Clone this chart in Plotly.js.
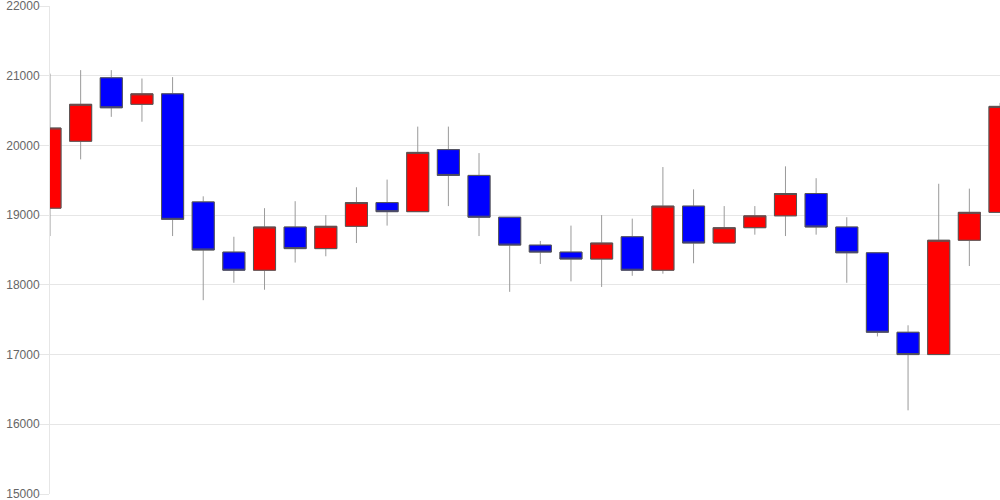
<!DOCTYPE html>
<html>
<head>
<meta charset="utf-8">
<script src="https://cdn.plot.ly/plotly-3.0.1.min.js"></script>
<style>
html, body { margin: 0; padding: 0; background: #fff; }
#chart { width: 1000px; height: 500px; }
</style>
</head>
<body>
<div id="chart"></div>
<script>
// Data
var idx = [0,1,2,3,4,5,6,7,8,9,10,11,12,13,14,15,16,17,18,19,20,21,22,23,24,25,26,27,28,29,30,31];
var openV  = [19100,20060,20970,20590,20740,19190,18470,18210,18830,18520,18840,19180,19050,19940,19570,18970,18570,18470,18370,18690,18210,19130,18600,18820,18990,19310,18830,18460,17320,17000,18640,19040];
var closeV = [20250,20590,20540,20740,18940,18500,18210,18830,18520,18840,19180,19050,19900,19570,18970,18570,18470,18370,18600,18210,19130,18600,18820,18990,19310,18830,18460,17320,17000,18640,19040,20560];
var highV  = [21030,21080,21080,20960,20980,19270,18690,19100,19200,19000,19400,19510,20270,20270,19890,18970,18630,18850,19000,18950,19690,19370,19130,19130,19700,19530,18970,18460,17420,19450,19380,20610];
var lowV   = [18700,19800,20410,20340,18700,17780,18030,17930,18320,18410,18600,18850,19050,19130,18700,17900,18300,18050,17970,18130,18160,18310,18600,18720,18700,18720,18030,17260,16200,17000,18270,19040];
var yTicks = [15000,16000,17000,18000,19000,20000,21000,22000];

var bodyTop = openV.map(function(o, i){ return Math.max(o, closeV[i]); });
var bodyBot = openV.map(function(o, i){ return Math.min(o, closeV[i]); });

// wicks (full candle, grey lines)
var wicks = {
  type: 'candlestick', x: idx, open: openV, close: closeV, high: highV, low: lowV,
  increasing: { line: { color: '#9a9a9a', width: 1 }, fillcolor: '#ff0000' },
  decreasing: { line: { color: '#9a9a9a', width: 1 }, fillcolor: '#0000ff' },
  whiskerwidth: 0, hoverinfo: 'skip', showlegend: false
};
// bodies with dark outline
var bodies = {
  type: 'candlestick', x: idx, open: openV, close: closeV, high: bodyTop, low: bodyBot,
  increasing: { line: { color: '#555555', width: 1 }, fillcolor: '#ff0000' },
  decreasing: { line: { color: '#555555', width: 1 }, fillcolor: '#0000ff' },
  whiskerwidth: 0, hoverinfo: 'skip', showlegend: false
};

var layout = {
  width: 1000, height: 500,
  margin: { l: 50, r: 0, t: 6, b: 6, pad: 0 },
  paper_bgcolor: '#ffffff', plot_bgcolor: '#ffffff',
  showlegend: false,
  boxgap: 0.28, boxgroupgap: 0,
  font: { family: 'Liberation Sans, Arial, sans-serif', size: 12, color: '#666666' },
  xaxis: {
    type: 'linear', range: [0, 31],
    showticklabels: false, showgrid: false, zeroline: false, showline: false, ticks: '',
    rangeslider: { visible: false }, fixedrange: true
  },
  yaxis: {
    range: [15000, 22000], tickvals: yTicks, ticktext: yTicks.map(String),
    showgrid: true, gridcolor: '#e6e6e6', gridwidth: 1,
    zeroline: false, showline: true, linecolor: '#e6e6e6', linewidth: 1,
    ticks: 'outside', ticklen: 10, tickcolor: '#e6e6e6', tickwidth: 1,
    tickfont: { family: 'Liberation Sans, Arial, sans-serif', size: 12, color: '#666666' },
    ticklabelstandoff: -3, ticklabeloverflow: 'allow',
    fixedrange: true
  }
};

Plotly.newPlot('chart', [wicks, bodies], layout, { displayModeBar: false, staticPlot: true });
</script>
</body>
</html>
